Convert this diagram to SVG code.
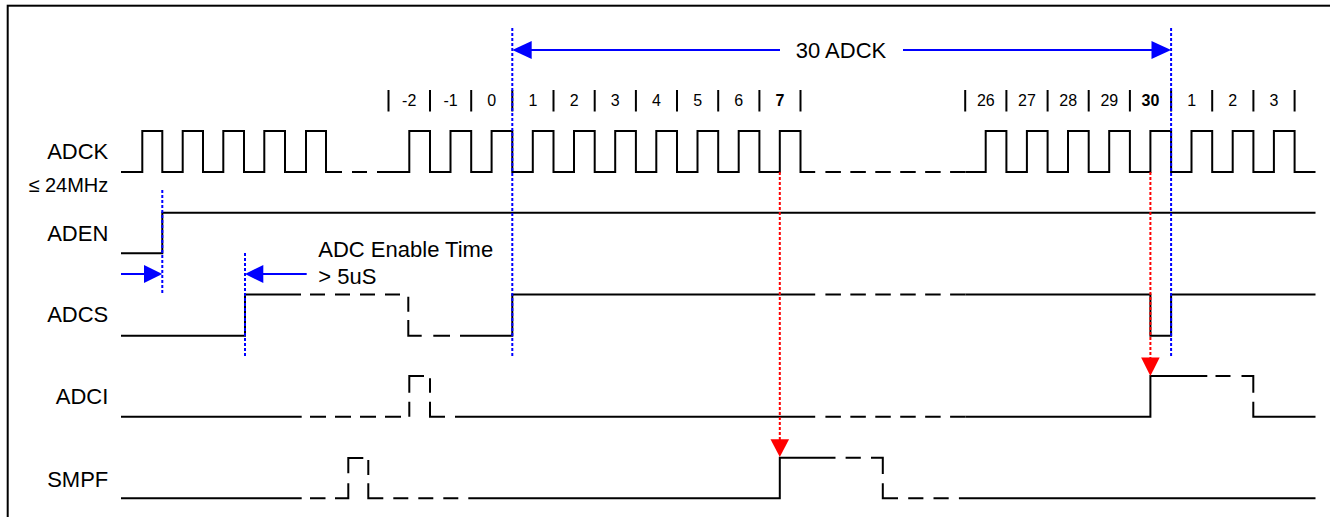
<svg xmlns="http://www.w3.org/2000/svg" width="1330" height="517" viewBox="0 0 1330 517">
<style>
text{font-family:"Liberation Sans",Arial,sans-serif;fill:#000}
.lbl{font-size:22px;text-anchor:end}
.num{font-size:16px;text-anchor:middle}
.b{font-weight:bold}
.w{fill:none;stroke:#000;stroke-width:2}
.d{fill:none;stroke:#000;stroke-width:2;stroke-dasharray:15.5 9.44}
.bar{stroke:#000;stroke-width:2}
.bl{fill:none;stroke:#0000FF;stroke-width:2}
.bdot{fill:none;stroke:#0000FF;stroke-width:2;stroke-dasharray:3 2}
.rdot{fill:none;stroke:#FF0000;stroke-width:2;stroke-dasharray:3 2}
.bf{fill:#0000FF}
.rf{fill:#FF0000}
</style>
<rect x="7.7" y="5.7" width="1400" height="600" fill="none" stroke="#000" stroke-width="2"/>

<g id="labels">
<text class="lbl" x="108.3" y="159.3">ADCK</text>
<text x="108.3" y="192" style="font-size:20px;text-anchor:end">≤ 24MHz</text>
<text class="lbl" x="108.3" y="240.7">ADEN</text>
<text class="lbl" x="108.3" y="322.3">ADCS</text>
<text class="lbl" x="108.3" y="404.3">ADCI</text>
<text class="lbl" x="108.3" y="486.7">SMPF</text>
</g>

<g id="cycle-numbers">
<g class="bar">
<line x1="388.5" y1="90" x2="388.5" y2="111.5"/>
<line x1="430" y1="90" x2="430" y2="111.5"/>
<line x1="471.2" y1="90" x2="471.2" y2="111.5"/>
<line x1="512.3" y1="90" x2="512.3" y2="111.5"/>
<line x1="553.5" y1="90" x2="553.5" y2="111.5"/>
<line x1="594.7" y1="90" x2="594.7" y2="111.5"/>
<line x1="635.9" y1="90" x2="635.9" y2="111.5"/>
<line x1="677" y1="90" x2="677" y2="111.5"/>
<line x1="718.2" y1="90" x2="718.2" y2="111.5"/>
<line x1="759.4" y1="90" x2="759.4" y2="111.5"/>
<line x1="800.5" y1="90" x2="800.5" y2="111.5"/>
<line x1="965.2" y1="90" x2="965.2" y2="111.5"/>
<line x1="1006.4" y1="90" x2="1006.4" y2="111.5"/>
<line x1="1047.6" y1="90" x2="1047.6" y2="111.5"/>
<line x1="1088.7" y1="90" x2="1088.7" y2="111.5"/>
<line x1="1129.9" y1="90" x2="1129.9" y2="111.5"/>
<line x1="1171.1" y1="90" x2="1171.1" y2="111.5"/>
<line x1="1212.2" y1="90" x2="1212.2" y2="111.5"/>
<line x1="1253.4" y1="90" x2="1253.4" y2="111.5"/>
<line x1="1294.6" y1="90" x2="1294.6" y2="111.5"/>
</g>
<text class="num" x="409.2" y="106">-2</text>
<text class="num" x="450.6" y="106">-1</text>
<text class="num" x="491.8" y="106">0</text>
<text class="num" x="533" y="106">1</text>
<text class="num" x="574.1" y="106">2</text>
<text class="num" x="615.3" y="106">3</text>
<text class="num" x="656.5" y="106">4</text>
<text class="num" x="697.6" y="106">5</text>
<text class="num" x="738.8" y="106">6</text>
<text class="num b" x="780" y="106">7</text>
<text class="num" x="985.8" y="106">26</text>
<text class="num" x="1027" y="106">27</text>
<text class="num" x="1068.2" y="106">28</text>
<text class="num" x="1109.3" y="106">29</text>
<text class="num b" x="1150.5" y="106">30</text>
<text class="num" x="1191.7" y="106">1</text>
<text class="num" x="1232.8" y="106">2</text>
<text class="num" x="1274" y="106">3</text>
</g>

<g id="ADCK">
<path class="w" d="M121,172H142.3V131H162.3V172H182.7V131H203V172H223.3V131H244V172H264.3V131H285V172H306V131H326V172H342"/>
<path class="w" d="M352,172H367"/>
<path class="w" d="M377,172H409.3V131H430V172H450.5V131H471.2V172H491.6V131H512.3V172H532.8V131H553.5V172H574V131H594.7V172H615.2V131H635.9V172H656.3V131H677V172H697.5V131H718.2V172H738.7V131H759.4V172H779.8V131H800.5V172H815.2"/>
<path class="d" d="M825.4,172H965.6"/>
<path class="w" d="M965.6,172H985.7V131H1006.4V172H1026.9V131H1047.6V172H1068V131H1088.7V172H1109.2V131H1129.9V172H1150.4V131H1171.1V172H1191.5V131H1212.2V172H1232.7V131H1253.4V172H1273.9V131H1294.6V172H1315.5"/>
</g>

<g id="ADEN">
<path class="w" d="M121,253.3H162.3V212.7H1315.5"/>
</g>

<g id="ADCS">
<path class="w" d="M121,335.7H245V294.5H301"/>
<path class="w" style="stroke-dasharray:15 10" d="M310,294.5H400"/>
<path class="w" d="M408.3,296.7V311.7M408.3,320V335.7H421.7M433.3,335.7H450"/>
<path class="w" d="M460,335.7H512.3V294.5H815.2"/>
<path class="d" d="M825.4,294.5H965.6"/>
<path class="w" d="M965.6,294.5H1150.4V335.7H1171.1V294.5H1315.5"/>
</g>

<g id="ADCI">
<path class="w" d="M121,416.7H301.7"/>
<path class="w" style="stroke-dasharray:16 9" d="M310,416.7H401"/>
<path class="w" d="M409.3,401.7V416.7M409.3,392.7V376H424M430,378.3V392.7M430,401.7V416.7H445M455,416.7H470"/>
<path class="w" d="M470,416.7H815.2"/>
<path class="d" d="M825.4,416.7H965.6"/>
<path class="w" d="M965.6,416.7H1150.4V376H1207.3M1215.5,376H1230.5M1241.5,376H1253.3V392.7M1253.3,401.7V416.7H1315.5"/>
</g>

<g id="SMPF">
<path class="w" d="M121,498.3H301.7M310,498.3H325.5"/>
<path class="w" d="M335,498.3H348.3V483.3M348.3,473.3V458H363.3M368.3,460V475M368.3,483.3V498.3H383.3"/>
<path class="w" style="stroke-dasharray:15 10" d="M393.3,498.3H458.3"/>
<path class="w" d="M468.3,498.3H779.8V457.7H835.5M845.6,457.7H860.8M871,457.7H882.8V474M882.8,483.3V498.3H898M908.2,498.3H923.4M933.5,498.3H948.7M958.9,498.3H1315.5"/>
</g>

<g id="connectors">
<line class="bdot" x1="162.3" y1="190" x2="162.3" y2="295"/>
<line class="bdot" x1="245" y1="253" x2="245" y2="356"/>
<line class="bdot" x1="512.3" y1="28" x2="512.3" y2="356"/>
<line class="bdot" x1="1171.1" y1="28" x2="1171.1" y2="356"/>
<line class="bl" x1="530" y1="50" x2="780" y2="50"/>
<polygon class="bf" points="512.3,50 531.7,41 531.7,59"/>
<line class="bl" x1="903" y1="50" x2="1153" y2="50"/>
<polygon class="bf" points="1171.1,50 1151.5,41 1151.5,59"/>
<line class="bl" x1="121" y1="274" x2="146" y2="274"/>
<polygon class="bf" points="162.3,274 144,265 144,283"/>
<polygon class="bf" points="245,274 263.3,265 263.3,283"/>
<line class="bl" x1="261" y1="274" x2="306.7" y2="274"/>
<line class="rdot" x1="779.8" y1="172" x2="779.8" y2="441"/>
<polygon class="rf" points="770.5,439.3 789.1,439.3 779.8,457"/>
<line class="rdot" x1="1150.4" y1="172" x2="1150.4" y2="359"/>
<polygon class="rf" points="1141.1,357.5 1159.7,357.5 1150.4,376"/>
</g>

<g id="annotations">
<text x="841" y="57.5" style="font-size:22px;text-anchor:middle">30 ADCK</text>
<text x="318.3" y="256.7" style="font-size:22px">ADC Enable Time</text>
<text x="318.3" y="284.3" style="font-size:22px">&gt; 5uS</text>
</g>
</svg>
